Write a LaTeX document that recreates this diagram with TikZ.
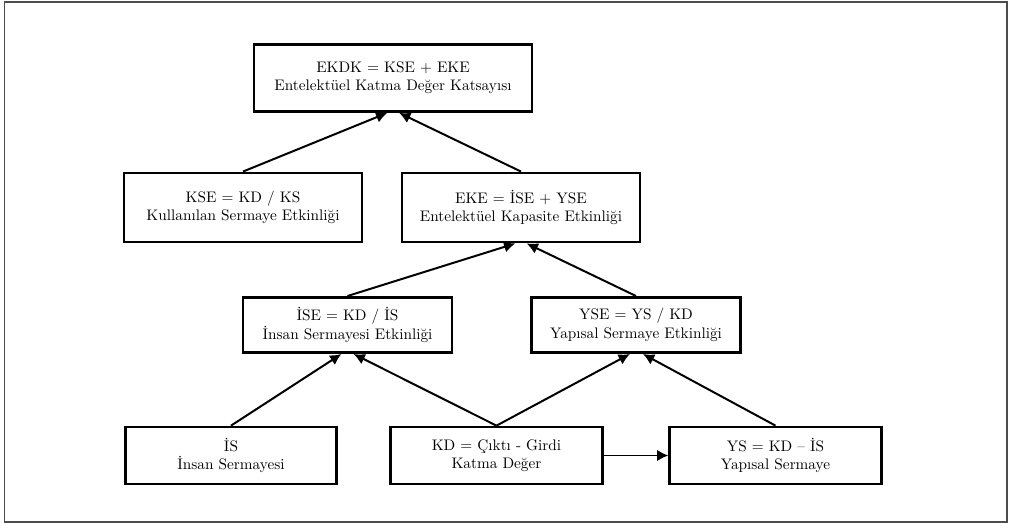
\documentclass[tikz,border=0pt]{standalone}
\usepackage{fontspec}
\usepackage{xcolor}
\usepackage{tikz}
\usetikzlibrary{arrows.meta}

\begin{document}
\begin{tikzpicture}[x=2.3mm,y=-2.3mm,
  box/.style={draw,line width=1.8pt,align=center,inner sep=0pt},
  link/.style={line width=1.3pt,-{Latex[length=2.6mm,width=2.6mm]}}]
\useasboundingbox (0,0) rectangle (100.9,52.3);
\draw[line width=1.1pt,black!70] (0.45,0.2) rectangle (100.7,52.2);
% top
\node[box,minimum width=63.9mm,minimum height=15.4mm] (ekdk) at (39.3,7.8) {EKDK = KSE + EKE\\Entelektüel Katma Değer Katsayısı};
\node[box,minimum width=54.7mm,minimum height=15.9mm] (kse) at (24.3,20.75) {KSE = KD / KS\\Kullanılan Sermaye Etkinliği};
\node[box,minimum width=54.7mm,minimum height=15.9mm] (eke) at (52.1,20.75) {EKE = İSE + YSE\\Entelektüel Kapasite Etkinliği};
% middle
\node[box,minimum width=48.1mm,minimum height=12.7mm] (ise) at (34.75,32.5) {İSE = KD / İS\\İnsan Sermayesi Etkinliği};
\node[box,minimum width=48.1mm,minimum height=12.7mm] (yse) at (63.6,32.5) {YSE = YS / KD\\Yapısal Sermaye Etkinliği};
% bottom
\node[box,minimum width=48.6mm,minimum height=13.1mm] (is) at (23.1,45.55) {İS\\İnsan Sermayesi};
\node[box,minimum width=48.6mm,minimum height=13.1mm] (kd) at (49.65,45.55) {KD = Çıktı - Girdi\\Katma Değer};
\node[box,minimum width=48.6mm,minimum height=13.1mm] (ys) at (77.55,45.55) {YS = KD – İS\\Yapısal Sermaye};
% arrows
\draw[link] (kse.north) -- ([xshift=-1.3mm]ekdk.south);
\draw[link] (eke.north) -- ([xshift=1.4mm]ekdk.south);
\draw[link] (ise.north) -- ([xshift=-1.3mm]eke.south);
\draw[link] (yse.north) -- ([xshift=1.3mm]eke.south);
\draw[link] (is.north) -- ([xshift=-1.4mm]ise.south);
\draw[link] (kd.north) -- ([xshift=1.4mm]ise.south);
\draw[link] (kd.north) -- ([xshift=-1.4mm]yse.south);
\draw[link] (ys.north) -- ([xshift=1.6mm]yse.south);
\draw[link] (kd.east) -- (ys.west);
\end{tikzpicture}
\end{document}
